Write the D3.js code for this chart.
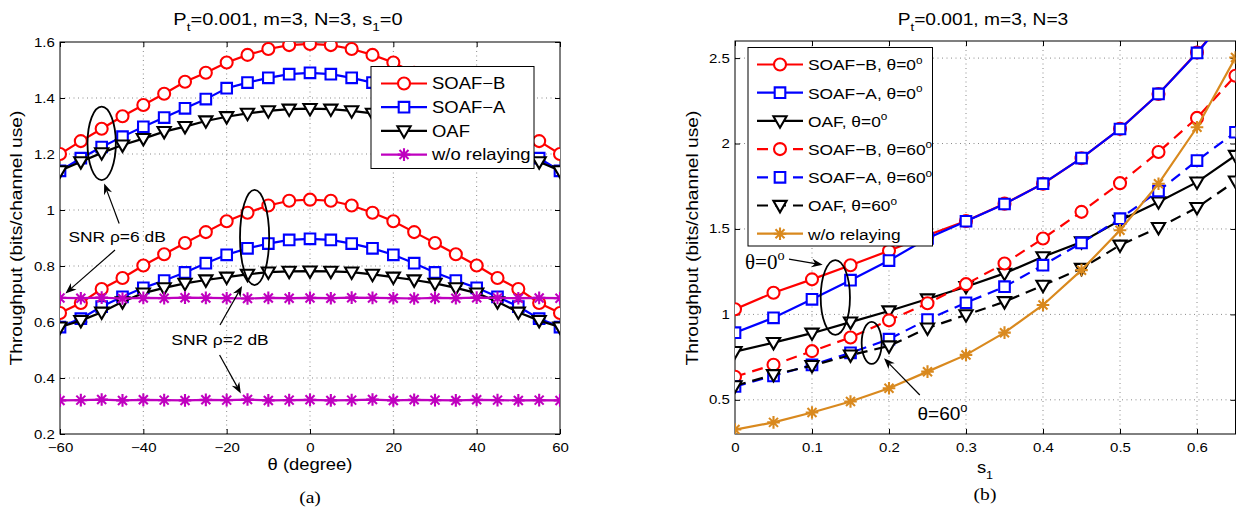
<!DOCTYPE html>
<html lang="en">
<head>
<meta charset="UTF-8">
<title>Throughput vs theta and s1</title>
<script src="https://d3js.org/d3.v7.min.js"></script>
<style>
  body { margin: 0; background: #fff; }
  text { fill: #000; }
</style>
</head>
<body>
<div id="chart"></div>
<script>
// ---------- panel (a): throughput vs theta (P_t=0.001, m=3, N=3, s1=0)
const thetaDeg = [-60, -55, -50, -45, -40, -35, -30, -25, -20, -15, -10, -5, 0,
                  5, 10, 15, 20, 25, 30, 35, 40, 45, 50, 55, 60];
// SNR rho = 6 dB
const soafB6 = [1.200, 1.246, 1.290, 1.335, 1.375, 1.415, 1.458, 1.490, 1.527, 1.554, 1.575, 1.589, 1.593,
                1.589, 1.575, 1.554, 1.527, 1.490, 1.458, 1.415, 1.375, 1.335, 1.290, 1.246, 1.200];
const soafA6 = [1.140, 1.185, 1.225, 1.262, 1.297, 1.330, 1.363, 1.396, 1.435, 1.455, 1.472, 1.485, 1.490,
                1.485, 1.472, 1.455, 1.435, 1.396, 1.363, 1.330, 1.297, 1.262, 1.225, 1.185, 1.140];
const oaf6   = [1.140, 1.172, 1.204, 1.232, 1.255, 1.280, 1.298, 1.318, 1.333, 1.345, 1.354, 1.360, 1.362,
                1.360, 1.354, 1.345, 1.333, 1.318, 1.298, 1.280, 1.255, 1.232, 1.204, 1.172, 1.140];
const noRelay6 = [0.686, 0.685, 0.687, 0.684, 0.686, 0.685, 0.687, 0.686, 0.685, 0.684, 0.686, 0.685, 0.686,
                  0.685, 0.687, 0.686, 0.685, 0.684, 0.686, 0.685, 0.687, 0.686, 0.685, 0.686, 0.685];
// SNR rho = 2 dB
const soafB2 = [0.632, 0.668, 0.718, 0.757, 0.802, 0.842, 0.882, 0.921, 0.960, 0.990, 1.016, 1.033, 1.037,
                1.033, 1.016, 0.990, 0.960, 0.921, 0.882, 0.842, 0.802, 0.757, 0.718, 0.668, 0.632];
const soafA2 = [0.582, 0.612, 0.655, 0.690, 0.722, 0.748, 0.777, 0.810, 0.840, 0.863, 0.880, 0.893, 0.897,
                0.893, 0.880, 0.863, 0.840, 0.810, 0.777, 0.748, 0.722, 0.690, 0.655, 0.612, 0.582];
const oaf2   = [0.582, 0.605, 0.635, 0.672, 0.703, 0.722, 0.738, 0.750, 0.760, 0.770, 0.778, 0.781, 0.782,
                0.781, 0.778, 0.770, 0.760, 0.750, 0.738, 0.722, 0.703, 0.672, 0.635, 0.605, 0.582];
const noRelay2 = [0.320, 0.321, 0.323, 0.320, 0.322, 0.321, 0.320, 0.322, 0.321, 0.323, 0.320, 0.321, 0.322,
                  0.320, 0.321, 0.323, 0.320, 0.322, 0.321, 0.320, 0.322, 0.321, 0.320, 0.321, 0.320];

const ticksThetaA = [-60, -40, -20, 0, 20, 40, 60];
const ticksYA = [0.2, 0.4, 0.6, 0.8, 1, 1.2, 1.4, 1.6];
const legendA = ["SOAF\u2212B", "SOAF\u2212A", "OAF", "w/o relaying"];

// ---------- panel (b): throughput vs s1 (P_t=0.001, m=3, N=3)
const s1 = [0, 0.05, 0.1, 0.15, 0.2, 0.25, 0.3, 0.35, 0.4, 0.45, 0.5, 0.55, 0.6, 0.65];
const soafB0  = [1.030, 1.127, 1.205, 1.288, 1.372, 1.463, 1.547, 1.648, 1.765, 1.914, 2.086, 2.290, 2.533, 2.800];
const soafA0  = [0.893, 0.980, 1.088, 1.200, 1.315, 1.445, 1.545, 1.646, 1.765, 1.915, 2.085, 2.290, 2.530, 2.800];
const oaf0    = [0.782, 0.835, 0.890, 0.955, 1.020, 1.090, 1.162, 1.240, 1.337, 1.424, 1.550, 1.658, 1.774, 1.930];
const soafB60 = [0.635, 0.705, 0.785, 0.865, 0.965, 1.065, 1.177, 1.298, 1.444, 1.600, 1.768, 1.950, 2.150, 2.397];
const soafA60 = [0.578, 0.640, 0.704, 0.775, 0.855, 0.970, 1.068, 1.162, 1.288, 1.418, 1.560, 1.722, 1.900, 2.066];
const oaf60   = [0.582, 0.647, 0.700, 0.762, 0.815, 0.920, 0.997, 1.074, 1.170, 1.269, 1.405, 1.508, 1.625, 1.780];
const noRelayS = [0.326, 0.368, 0.426, 0.490, 0.568, 0.665, 0.763, 0.893, 1.055, 1.259, 1.492, 1.765, 2.095, 2.503];

const ticksS1 = [0, 0.1, 0.2, 0.3, 0.4, 0.5, 0.6];
const ticksYB = [0.5, 1, 1.5, 2, 2.5];
const legendB = ["SOAF\u2212B, \u03b8=0", "SOAF\u2212A, \u03b8=0", "OAF, \u03b8=0",
                 "SOAF\u2212B, \u03b8=60", "SOAF\u2212A, \u03b8=60", "OAF, \u03b8=60", "w/o relaying"];

// ---------- look
const SANS = "'Liberation Sans', Arial, Helvetica, sans-serif";
const SERIF = "'Liberation Serif', 'Times New Roman', serif";
const SX = 1.2;   // the reference text is drawn a bit wide
const RED = "#ff0000", BLUE = "#0000ff", BLACK = "#000000", MAGENTA = "#bf00bf", ORANGE = "#d9891e";

const MARK = {
  circle: "M6,0A6,6 0 1,1 -6,0A6,6 0 1,1 6,0Z",
  square: "M-5.3,-5.3H5.3V5.3H-5.3Z",
  tri: "M-6.6,-4.6H6.6L0,6.8Z",
  star: "M-6.3,0H6.3M0,-6.3V6.3M-4.5,-4.5L4.5,4.5M-4.5,4.5L4.5,-4.5"
};

const svg = d3.select("#chart").append("svg")
  .attr("width", 1254).attr("height", 514)
  .style("background", "#fff");

// text with sub / superscript parts
function label(g, x, y, parts, o) {
  const size = o.size, sx = o.sx == null ? SX : o.sx;
  const t = g.append("text")
    .attr("transform", `translate(${x},${y})${o.rotate ? " rotate(-90)" : ""} scale(${sx},1)`)
    .attr("text-anchor", o.anchor || "middle")
    .style("font-family", o.family || SANS)
    .style("font-size", size + "px");
  let shift = 0;
  parts.forEach(p => {
    const s = Array.isArray(p) ? p[0] : p, k = Array.isArray(p) ? p[1] : "";
    const want = k === "sub" ? size * 0.38 : k === "sup" ? -size * 0.42 : 0;
    t.append("tspan").attr("dy", want - shift)
      .style("font-size", (k ? size * 0.68 : size) + "px").text(s);
    shift = want;
  });
  return t;
}

function drawArrow(g, x1, y1, x2, y2) {
  const a = Math.atan2(y2 - y1, x2 - x1), L = 11, Wd = 4.3;
  const ux = Math.cos(a), uy = Math.sin(a);
  const bx = x2 - ux * L, by = y2 - uy * L;
  const nx = x2 - ux * L * 0.7, ny = y2 - uy * L * 0.7;
  g.append("line").attr("x1", x1).attr("y1", y1).attr("x2", nx).attr("y2", ny)
    .attr("stroke", "#000").attr("stroke-width", 1.2);
  g.append("path")
    .attr("d", `M${x2},${y2}L${bx - uy * Wd},${by + ux * Wd}L${nx},${ny}L${bx + uy * Wd},${by - ux * Wd}Z`)
    .attr("fill", "#000");
}

function drawPanel(p) {
  const b = p.box;
  const x = d3.scaleLinear().domain(p.xDomain).range([b.left, b.right]);
  const y = d3.scaleLinear().domain(p.yDomain).range([b.bottom, b.top]);
  const g = svg.append("g");

  svg.append("clipPath").attr("id", p.id + "-clip").append("rect")
    .attr("x", b.left).attr("y", b.top).attr("width", b.right - b.left).attr("height", b.bottom - b.top);

  // dotted grid
  const grid = g.append("g").attr("stroke", "#8a8a8a").attr("stroke-dasharray", "1,3.5");
  grid.selectAll(".gx").data(p.xTicks.filter(t => x(t) > b.left + 1 && x(t) < b.right - 1)).join("line")
    .attr("x1", d => x(d)).attr("x2", d => x(d)).attr("y1", b.top).attr("y2", b.bottom);
  grid.selectAll(".gy").data(p.yTicks.filter(t => y(t) < b.bottom - 1 && y(t) > b.top + 1)).join("line")
    .attr("y1", d => y(d)).attr("y2", d => y(d)).attr("x1", b.left).attr("x2", b.right);

  // axes, ticks pointing inward on all four sides
  const fmt = d3.format("~g");
  const axB = g.append("g").attr("transform", `translate(0,${b.bottom})`)
    .call(d3.axisBottom(x).tickValues(p.xTicks).tickSizeInner(-5).tickSizeOuter(0).tickPadding(9.2).tickFormat(p.xFormat || fmt));
  const axL = g.append("g").attr("transform", `translate(${b.left},0)`)
    .call(d3.axisLeft(y).tickValues(p.yTicks).tickSizeInner(-5).tickSizeOuter(0).tickPadding(4.3).tickFormat(fmt));
  g.append("g").attr("transform", `translate(0,${b.top})`)
    .call(d3.axisTop(x).tickValues(p.xTicks).tickSizeInner(-5).tickSizeOuter(0).tickFormat(""));
  g.append("g").attr("transform", `translate(${b.right},0)`)
    .call(d3.axisRight(y).tickValues(p.yTicks).tickSizeInner(-5).tickSizeOuter(0).tickFormat(""));
  g.selectAll(".domain").remove();
  g.selectAll(".tick line").attr("stroke", "#000");
  [axB, axL].forEach(a => a.selectAll("text")
    .attr("transform", `scale(${SX},1)`)
    .style("font-family", SANS).style("font-size", "12.5px").attr("fill", "#000"));

  g.append("rect").attr("x", b.left).attr("y", b.top)
    .attr("width", b.right - b.left).attr("height", b.bottom - b.top)
    .attr("fill", "none").attr("stroke", "#000").attr("stroke-width", 1);

  // series
  const plot = g.append("g").attr("clip-path", `url(#${p.id}-clip)`);
  p.series.forEach(s => {
    plot.append("path").datum(s.ys)
      .attr("d", d3.line().x((d, i) => x(p.xs[i])).y(d => y(d)))
      .attr("fill", "none").attr("stroke", s.color).attr("stroke-width", 2.2)
      .attr("stroke-dasharray", s.dash ? "11,7" : null);
    plot.append("g").selectAll("path").data(s.ys).join("path")
      .attr("transform", (d, i) => `translate(${x(p.xs[i])},${y(d)})`)
      .attr("d", MARK[s.mark])
      .attr("fill", s.mark === "star" ? "none" : "#fff")
      .attr("stroke", s.color).attr("stroke-width", 2.1);
  });

  // legend
  const L = p.legend;
  const lg = g.append("g");
  lg.append("rect").attr("x", L.left).attr("y", L.top).attr("width", L.width).attr("height", L.height)
    .attr("fill", "#fff").attr("stroke", "#000").attr("stroke-width", 1);
  p.series.filter(s => s.name).forEach((s, i) => {
    const cy = L.row0 + i * L.step;
    lg.append("line").attr("x1", L.line[0]).attr("x2", L.line[1]).attr("y1", cy).attr("y2", cy)
      .attr("stroke", s.color).attr("stroke-width", 2.2).attr("stroke-dasharray", s.dash ? "11,7" : null);
    lg.append("path").attr("transform", `translate(${(L.line[0] + L.line[1]) / 2},${cy})`)
      .attr("d", MARK[s.mark]).attr("fill", s.mark === "star" ? "none" : "#fff")
      .attr("stroke", s.color).attr("stroke-width", 2.1);
    const parts = s.deg ? [s.name, ["o", "sup"]] : [s.name];
    label(lg, L.line[1] + 5, cy + 5.8, parts, { size: L.font, anchor: "start", sx: L.sx });
  });

  return { x, y, g };
}

// ---------- panel (a)
const pa = drawPanel({
  id: "pa",
  box: { left: 60, right: 560, top: 42, bottom: 434 },
  xDomain: [-60, 60], yDomain: [0.2, 1.6],
  xTicks: ticksThetaA, yTicks: ticksYA, xs: thetaDeg,
  series: [
    { name: legendA[0], ys: soafB6, color: RED, mark: "circle" },
    { ys: soafB2, color: RED, mark: "circle" },
    { name: legendA[1], ys: soafA6, color: BLUE, mark: "square" },
    { ys: soafA2, color: BLUE, mark: "square" },
    { name: legendA[2], ys: oaf6, color: BLACK, mark: "tri" },
    { ys: oaf2, color: BLACK, mark: "tri" },
    { name: legendA[3], ys: noRelay6, color: MAGENTA, mark: "star" },
    { ys: noRelay2, color: MAGENTA, mark: "star" }
  ],
  legend: { left: 371, top: 66.5, width: 163, height: 102, row0: 83.5, step: 23.7,
            line: [381, 427], font: 16.5, sx: 1.12 }
});

// ---------- panel (b)
const pb = drawPanel({
  id: "pb",
  box: { left: 735, right: 1235.5, top: 41, bottom: 434 },
  xDomain: [0, 0.65], yDomain: [0.3, 2.6],
  xTicks: ticksS1, yTicks: ticksYB, xs: s1,
  series: [
    { name: legendB[0], deg: true, ys: soafB0, color: RED, mark: "circle" },
    { name: legendB[1], deg: true, ys: soafA0, color: BLUE, mark: "square" },
    { name: legendB[2], deg: true, ys: oaf0, color: BLACK, mark: "tri" },
    { name: legendB[3], deg: true, ys: soafB60, color: RED, mark: "circle", dash: true },
    { name: legendB[4], deg: true, ys: soafA60, color: BLUE, mark: "square", dash: true },
    { name: legendB[5], deg: true, ys: oaf60, color: BLACK, mark: "tri", dash: true },
    { name: legendB[6], ys: noRelayS, color: ORANGE, mark: "star" }
  ],
  legend: { left: 748, top: 47.5, width: 184.5, height: 198.5, row0: 64.5, step: 28.2,
            line: [757, 803], font: 15.5, sx: 1.12 }
});

// ---------- titles and axis labels
label(svg, 288, 25, ["P", ["t", "sub"], "=0.001, m=3, N=3, s", ["1", "sub"], "=0"], { size: 16, sx: 1.25 });
label(svg, 983, 25, ["P", ["t", "sub"], "=0.001, m=3, N=3"], { size: 16, sx: 1.2 });
label(svg, 22, 238, ["Throughput (bits/channel use)"], { size: 16, rotate: true, sx: 1.2 });
label(svg, 698, 238, ["Throughput (bits/channel use)"], { size: 16, rotate: true, sx: 1.2 });
label(svg, 310, 470, ["\u03b8 (degree)"], { size: 16, sx: 1.15 });
label(svg, 985, 473, ["s", ["1", "sub"]], { size: 16, sx: 1.15 });
label(svg, 310, 503, ["(a)"], { size: 17, family: SERIF, sx: 1.15 });
label(svg, 985, 500, ["(b)"], { size: 17, family: SERIF, sx: 1.15 });

// ---------- annotations, panel (a)
{
  const { x, y, g } = pa;
  const ell = (cx, cy, rx, ry) => g.append("ellipse")
    .attr("cx", x(cx)).attr("cy", y(cy))
    .attr("rx", x(cx + rx) - x(cx)).attr("ry", y(cy) - y(cy + ry))
    .attr("fill", "none").attr("stroke", "#000").attr("stroke-width", 1.8);
  ell(-50, 1.238, 3.4, 0.131);
  ell(-13.3, 0.902, 3.5, 0.17);
  label(g, x(-46.3), y(0.887), ["SNR \u03c1=6 dB"], { size: 14.5 });
  drawArrow(g, x(-45.8), y(0.952), x(-49.4), y(1.095));
  drawArrow(g, x(-46.8), y(0.857), x(-58.7), y(0.702));
  label(g, x(-21.6), y(0.518), ["SNR \u03c1=2 dB"], { size: 14.5 });
  drawArrow(g, x(-21.6), y(0.589), x(-16.3), y(0.729));
  drawArrow(g, x(-21.7), y(0.482), x(-16.6), y(0.345));
}

// ---------- annotations, panel (b)
{
  const { x, y, g } = pb;
  const ell = (cx, cy, rx, ry) => g.append("ellipse")
    .attr("cx", x(cx)).attr("cy", y(cy))
    .attr("rx", x(cx + rx) - x(cx)).attr("ry", y(cy) - y(cy + ry))
    .attr("fill", "none").attr("stroke", "#000").attr("stroke-width", 1.8);
  ell(0.1303, 1.099, 0.019, 0.219);
  ell(0.1775, 0.833, 0.013, 0.123);
  label(g, x(0.013), y(1.264), ["\u03b8=0", ["o", "sup"]], { size: 21, anchor: "start", family: SERIF, sx: 1 });
  drawArrow(g, x(0.0701), y(1.323), x(0.1139), y(1.29));
  drawArrow(g, x(0.24), y(0.528), x(0.1935), y(0.743));
  label(g, x(0.237), y(0.382), ["\u03b8=60", ["o", "sup"]], { size: 19, anchor: "start", sx: 1 });
}
</script>
</body>
</html>
